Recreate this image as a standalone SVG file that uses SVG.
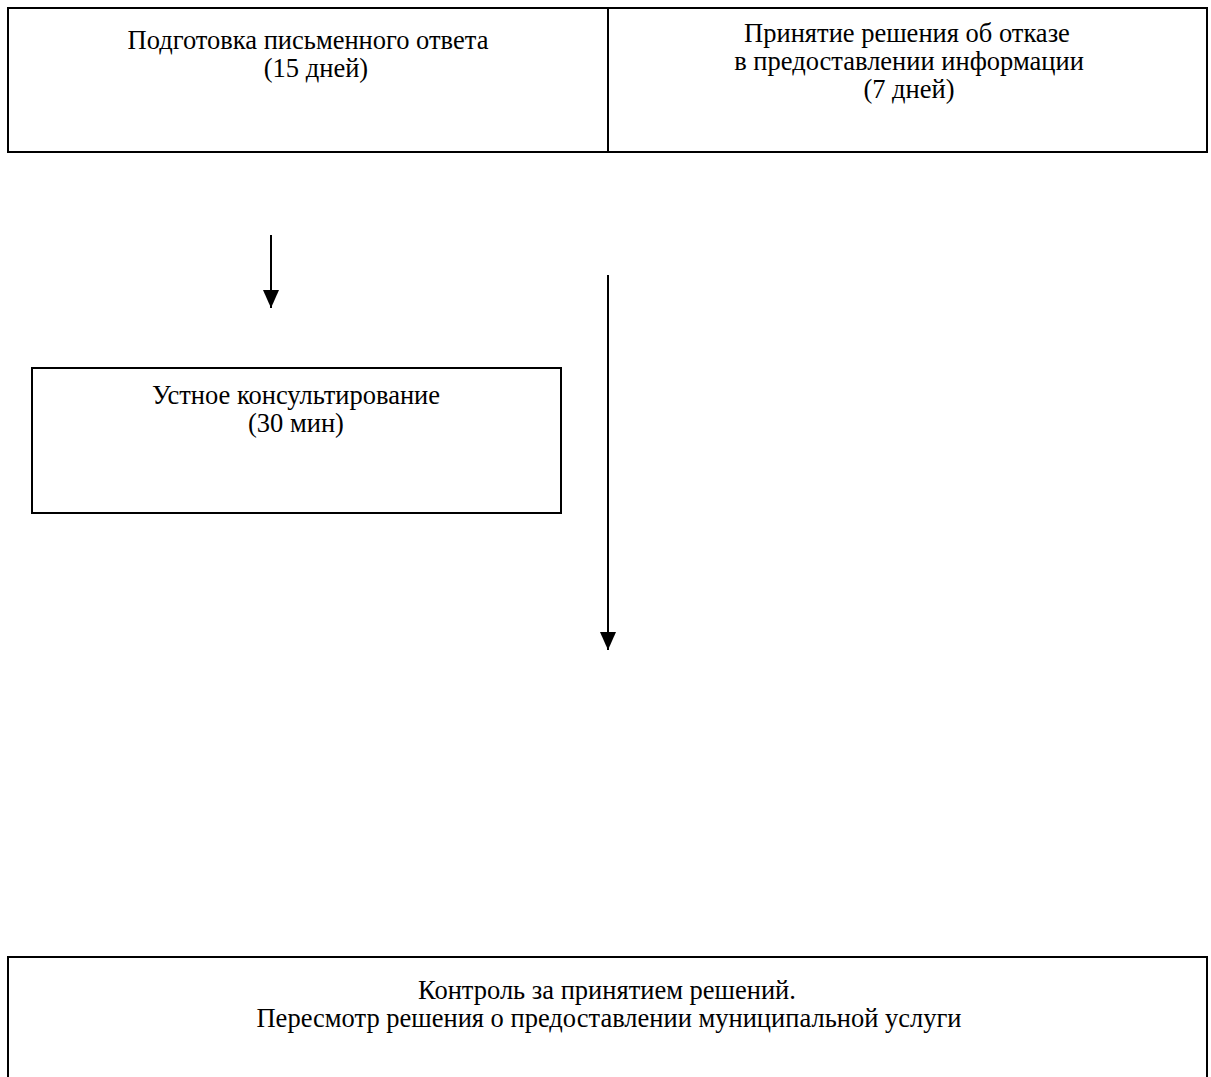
<svg xmlns="http://www.w3.org/2000/svg" width="1211" height="1077" viewBox="0 0 1211 1077">
<style>
.box{fill:#fff;stroke:#000;stroke-width:2}
.t{font-family:"Liberation Serif","Times New Roman",serif;font-size:26.5px;fill:#000;text-anchor:middle}
.c{stroke:#000;stroke-width:2;fill:none}
</style>
<defs>
<marker id="arr" markerWidth="18" markerHeight="18" refX="18" refY="9" orient="auto" markerUnits="userSpaceOnUse" viewBox="0 0 18 18">
<path d="M0,1 L18,9 L0,17 Z" fill="#000"/>
</marker>
</defs>
<rect width="1211" height="1077" fill="#fff"/>
<g id="node-written">
<rect class="box" x="8" y="8" width="600" height="144"/>
<text class="t" x="308" y="49">Подготовка письменного ответа</text>
<text class="t" x="316" y="77">(15 дней)</text>
</g>
<g id="node-refusal">
<rect class="box" x="608" y="8" width="599" height="144"/>
<text class="t" x="907" y="42">Принятие решения об отказе</text>
<text class="t" x="909" y="70">в предоставлении информации</text>
<text class="t" x="909" y="98">(7 дней)</text>
</g>
<g id="node-oral">
<rect class="box" x="32" y="368" width="529" height="145"/>
<text class="t" x="296" y="404">Устное консультирование</text>
<text class="t" x="296" y="432">(30 мин)</text>
</g>
<g id="node-control">
<rect class="box" x="8" y="957" width="1199" height="140"/>
<text class="t" x="607" y="999">Контроль за принятием решений.</text>
<text class="t" x="609" y="1027">Пересмотр решения о предоставлении муниципальной услуги</text>
</g>
<g id="connectors">
<line class="c" x1="271" y1="235" x2="271" y2="308" marker-end="url(#arr)"/>
<line class="c" x1="608" y1="275" x2="608" y2="650" marker-end="url(#arr)"/>
</g>
</svg>
